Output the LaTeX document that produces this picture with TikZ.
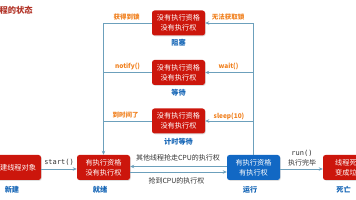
\documentclass[tikz,border=0pt]{standalone}
\usepackage{fontspec}
\setmainfont{Noto Sans CJK SC}
\newfontfamily\monof{DejaVu Sans Mono}
\usetikzlibrary{shadows,arrows.meta}
\definecolor{boxred}{RGB}{204,22,12}
\definecolor{boxblue}{RGB}{18,104,196}
\definecolor{linec}{RGB}{108,160,188}
\definecolor{orangec}{RGB}{240,128,30}
\definecolor{labblue}{RGB}{22,102,182}
\definecolor{titlered}{RGB}{178,52,40}
\definecolor{txtc}{RGB}{50,50,50}
\begin{document}
\begin{tikzpicture}[x=1pt,y=-1pt,
  statebox/.style={rounded corners=2.5pt, minimum width=53pt, minimum height=25pt,
    text=white, font=\fontsize{7.2}{10}\selectfont, align=center, inner sep=0pt,
    drop shadow={opacity=0.25, shadow xshift=0.8pt, shadow yshift=-0.8pt}},
  redbox/.style={statebox, fill=boxred},
  bluebox/.style={statebox, fill=boxblue},
  wire/.style={draw=linec, line width=0.9pt},
  conn/.style={wire, -{Stealth[length=4pt,width=3.5pt]}},
  orangelab/.style={text=orangec, font=\bfseries\fontsize{6.5}{7}\selectfont, inner sep=0pt},
  statelab/.style={text=labblue, font=\bfseries\fontsize{7.2}{8}\selectfont, inner sep=0pt},
  plainlab/.style={text=txtc, font=\fontsize{7}{8}\selectfont, inner sep=0pt},
  monolab/.style={text=txtc, font=\monof\fontsize{7}{8}\selectfont, inner sep=0pt}
]
\useasboundingbox (0,0) rectangle (356,200);

\node[text=titlered, font=\bfseries\fontsize{8.3}{9}\selectfont, anchor=east, inner sep=0pt] (title) at (33,10) {线程的状态};

\node[redbox] (b1) at (178.5,23) {没有执行资格\\没有执行权};
\node[redbox] (b2) at (178.5,72.5) {没有执行资格\\没有执行权};
\node[redbox] (b3) at (178.5,121) {没有执行资格\\没有执行权};
\node[redbox] (new) at (14.5,167.5) {创建线程对象};
\node[redbox] (ready) at (103.5,167.5) {有执行资格\\没有执行权};
\node[bluebox] (run) at (253.5,167.5) {有执行资格\\有执行权};
\node[redbox] (dead) at (349.5,167.5) {线程死亡\\变成垃圾};

\node[statelab] (l1) at (178.5,43) {阻塞};
\node[statelab] (l2) at (178.5,93) {等待};
\node[statelab] (l3) at (178.5,142) {计时等待};
\node[statelab] (l4) at (12,190) {新建};
\node[statelab] (l5) at (100,190) {就绪};
\node[statelab] (l6) at (250,190) {运行};
\node[statelab] (l7) at (343.5,190) {死亡};

\draw[conn] (b1.west) -| (ready.north);
\draw[wire] (b2.west) -- (b2.west -| ready.north);
\draw[wire] (b3.west) -- (b3.west -| ready.north);
\draw[conn] (run.north) |- (b1.east);
\draw[conn] (b2.east -| run.north) -- (b2.east);
\draw[conn] (b3.east -| run.north) -- (b3.east);

\node[orangelab] (o1) at (126.5,17) {获得到锁};
\node[orangelab] (o2) at (228,17) {无法获取锁};
\node[orangelab] (o3) at (127.5,66) {notify()};
\node[orangelab] (o4) at (228.5,66) {wait()};
\node[orangelab] (o5) at (125.5,115) {到时间了};
\node[orangelab] (o6) at (229,116) {sleep(10)};

\draw[conn] ([yshift=-1.5pt]new.east) -- ([yshift=-1.5pt]ready.west);
\node[monolab] (s1) at (59,162.5) {start()};

\draw[conn] ([yshift=1pt]run.west) -- ([yshift=1pt]ready.east);
\draw[conn] ([yshift=-4.5pt]ready.east) -- ([yshift=-4.5pt]run.west);
\node[plainlab] (s2) at (178,158) {其他线程抢走CPU的执行权};
\node[plainlab] (s3) at (176.5,181) {抢到CPU的执行权};

\draw[conn] ([yshift=-1.5pt]run.east) -- ([yshift=-1.5pt]dead.west);
\node[monolab] (s4) at (302,153) {run()};
\node[plainlab] (s5) at (302,163) {执行完毕};
\end{tikzpicture}
\end{document}
